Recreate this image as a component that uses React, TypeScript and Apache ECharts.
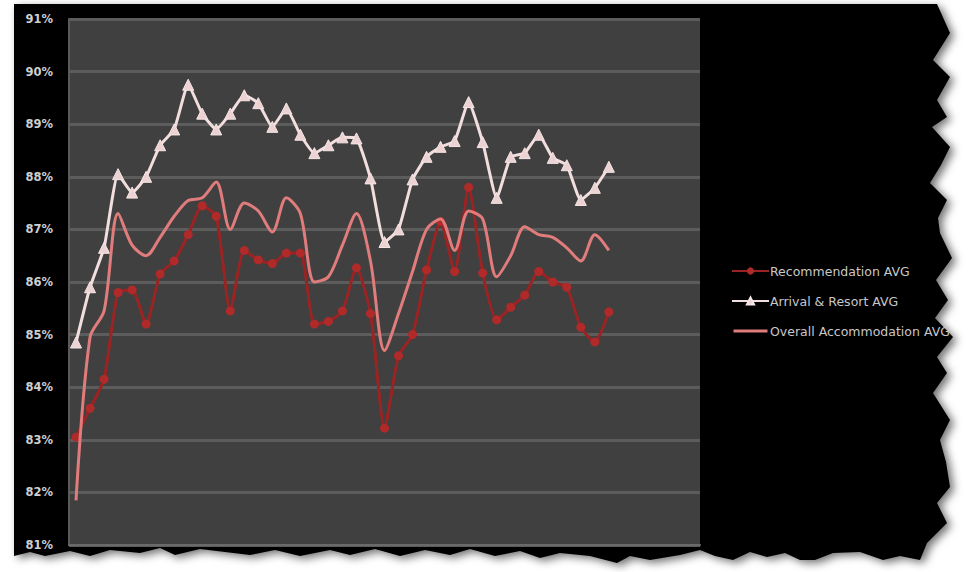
import React, { useEffect, useRef } from "react";
import * as echarts from "echarts";

// Survey periods along the horizontal axis (labels hidden, ticks every 5 periods)
const categories = [
  "1", "2", "3", "4", "5", "6", "7", "8", "9", "10",
  "11", "12", "13", "14", "15", "16", "17", "18", "19", "20",
  "21", "22", "23", "24", "25", "26", "27", "28", "29", "30",
  "31", "32", "33", "34", "35", "36", "37", "38", "39", "40",
  "41", "42", "43", "44", "45",
];

const recommendationAvg = [
  83.05, 83.6, 84.15, 85.8, 85.85, 85.2, 86.15, 86.4, 86.9, 87.45,
  87.25, 85.45, 86.6, 86.42, 86.35, 86.55, 86.55, 85.2, 85.25, 85.45,
  86.27, 85.4, 83.22, 84.6, 85.0, 86.23, 87.15, 86.2, 87.8, 86.17,
  85.28, 85.52, 85.75, 86.2, 86.0, 85.9, 85.14, 84.86, 85.43,
];

const arrivalResortAvg = [
  84.85, 85.9, 86.65, 88.05, 87.7, 88.0, 88.6, 88.9, 89.75, 89.2,
  88.9, 89.2, 89.55, 89.4, 88.95, 89.3, 88.8, 88.45, 88.6, 88.75,
  88.73, 87.97, 86.76, 87.0, 87.95, 88.38, 88.57, 88.68, 89.42, 88.66,
  87.6, 88.38, 88.45, 88.8, 88.36, 88.22, 87.56, 87.79, 88.19,
];

const overallAccommodationAvg = [
  81.85, 84.95, 85.45, 87.3, 86.7, 86.5, 86.85, 87.25, 87.55, 87.6,
  87.9, 87.0, 87.5, 87.35, 86.95, 87.6, 87.3, 86.0, 86.1, 86.7,
  87.3, 86.4, 84.7, 85.4, 86.2, 87.0, 87.2, 86.6, 87.35, 87.2,
  86.1, 86.5, 87.05, 86.9, 86.85, 86.65, 86.4, 86.9, 86.6,
];

const yMin = 81;
const yMax = 91;
const yStep = 1;

// Torn-paper outline of the dark card (right edge top→bottom, then bottom edge right→left)
const tornRight: [number, number][] = [
  [937, 4], [950, 33], [933, 60], [950, 77], [937, 100], [947, 117],
  [932, 127], [950, 147], [941, 165], [930, 183], [947, 200], [938, 218],
  [940, 233], [952, 258], [936, 280], [948, 300], [935, 318], [953, 337],
  [937, 357], [947, 373], [933, 393], [950, 420], [940, 440], [946, 462],
  [950, 487], [937, 503], [947, 523], [927, 543], [920, 560],
];
const tornBottom: [number, number][] = [
  [900, 556], [883, 560], [860, 552], [833, 553], [815, 560], [800, 560],
  [785, 553], [767, 557], [750, 552], [733, 560], [715, 556], [700, 550],
  [680, 555], [650, 560], [630, 556], [617, 563], [590, 556], [560, 553],
  [540, 558], [520, 551], [495, 556], [470, 549], [450, 555], [425, 550],
  [400, 556], [375, 549], [350, 555], [330, 550], [300, 556], [275, 550],
  [250, 555], [225, 552], [200, 549], [175, 555], [160, 548], [140, 553],
  [110, 550], [90, 556], [70, 551], [45, 556], [30, 552], [14, 556],
];

// Plain bar icon for the marker-less series (padded so it stays thin in the legend box)
const plainLineIcon = "path://M0,0 M0,3 L34,3 L34,6 L0,6 Z M34,9";

export default function App() {
  const ref = useRef<HTMLDivElement>(null);

  useEffect(() => {
    if (!ref.current) return;
    const chart = echarts.init(ref.current, undefined, { renderer: "svg" });

    const cardPoints: number[][] = [[14, 4], ...tornRight, ...tornBottom];

    chart.setOption({
      animation: false,
      backgroundColor: "#ffffff",
      graphic: [
        {
          type: "polygon",
          z: -10,
          silent: true,
          shape: { points: cardPoints },
          style: {
            fill: "#000000",
            shadowBlur: 8,
            shadowOffsetX: 4,
            shadowOffsetY: 3,
            shadowColor: "rgba(0,0,0,0.55)",
          },
        },
      ],
      grid: {
        left: 69,
        right: 271,
        top: 19,
        bottom: 27,
        show: true,
        backgroundColor: "#404040",
        borderWidth: 0,
        z: -5,
      },
      legend: {
        orient: "vertical",
        left: 726,
        top: 259,
        itemWidth: 37,
        itemHeight: 9,
        itemGap: 16,
        textStyle: {
          color: "#c8c8c8",
          fontSize: 12.5,
          lineHeight: 14,
          fontFamily: "DejaVu Sans, sans-serif",
          padding: [0, 0, 0, -4],
        },
        data: [
          { name: "Recommendation AVG" },
          { name: "Arrival & Resort AVG" },
          { name: "Overall Accommodation AVG", icon: plainLineIcon },
        ],
      },
      xAxis: {
        type: "category",
        data: categories,
        boundaryGap: true,
        axisLine: { lineStyle: { color: "#6a6a6a", width: 2 } },
        axisTick: {
          interval: 4,
          length: 4,
          lineStyle: { color: "#6a6a6a" },
        },
        axisLabel: { show: false },
        splitLine: { show: false },
      },
      yAxis: {
        type: "value",
        min: yMin,
        max: yMax,
        interval: yStep,
        axisLine: { show: true, lineStyle: { color: "#5a5a5a", width: 2 } },
        axisTick: { show: false },
        axisLabel: {
          formatter: (v: number) => `${v}%`,
          color: "#cfcfcf",
          fontSize: 11.5,
          fontWeight: "bold",
          fontFamily: "DejaVu Sans, sans-serif",
          margin: 16,
        },
        splitLine: { lineStyle: { color: "#5c5c5c", width: 3 } },
      },
      series: [
        {
          name: "Recommendation AVG",
          type: "line",
          data: recommendationAvg,
          smooth: 0.2,
          symbol: "circle",
          symbolSize: 9,
          showSymbol: true,
          showAllSymbol: true,
          lineStyle: { color: "#9a2323", width: 3 },
          itemStyle: { color: "#b02a2a" },
          z: 2,
        },
        {
          name: "Arrival & Resort AVG",
          type: "line",
          data: arrivalResortAvg,
          smooth: 0.15,
          symbol: "triangle",
          symbolSize: 11,
          showSymbol: true,
          showAllSymbol: true,
          lineStyle: { color: "#f2dede", width: 3 },
          itemStyle: { color: "#ecd2d2", borderColor: "#f6e6e6", borderWidth: 1 },
          z: 3,
        },
        {
          name: "Overall Accommodation AVG",
          type: "line",
          data: overallAccommodationAvg,
          smooth: 0.3,
          symbol: "none",
          lineStyle: { color: "#e07c7c", width: 3 },
          itemStyle: { color: "#e07c7c" },
          z: 4,
        },
      ],
    });

    return () => chart.dispose();
  }, []);

  return (
    <div
      ref={ref}
      style={{ position: "fixed", left: 0, top: 0, width: 971, height: 572 }}
    />
  );
}
